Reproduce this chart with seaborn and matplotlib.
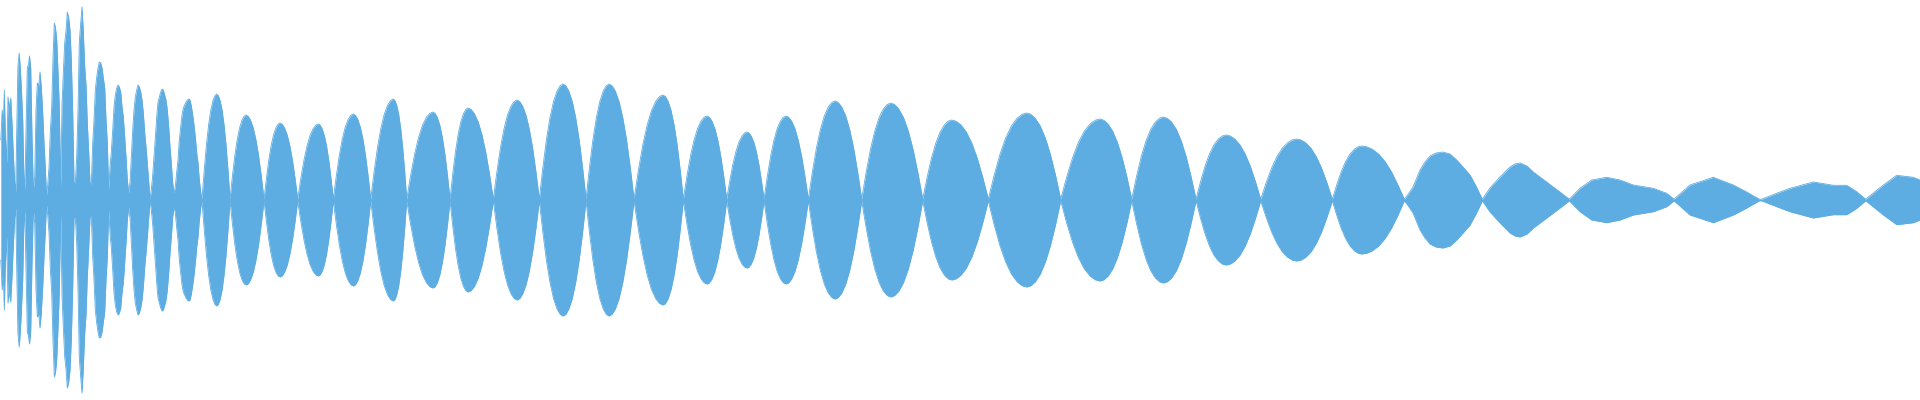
import numpy as np
import matplotlib
matplotlib.use("Agg")
import matplotlib.pyplot as plt
import seaborn as sns

# ---- data (x in samples, amplitude in same units) ----
# dense onset region: explicit envelope points
left_x = [0.8, 2.2, 3.3, 4.3, 5.3, 6.7, 8, 9.3, 10.7, 12, 13.3, 14.7, 15.7, 16.7,
          17.9, 19.2, 20.2, 21.3, 22.7, 23.8, 24.8, 26, 27.3, 28.5, 29.5, 30.7, 32,
          33.3, 34.7, 36, 37.3, 38.7, 40, 41.3, 42.7, 44, 45.3, 46.5, 47.7, 49, 50.3,
          51.7, 53, 54.3, 55.5, 56.7, 58, 59.3, 60.7, 62, 63.3, 64.7, 66, 67.3, 68.7,
          70, 71.3, 72.7, 74, 75.3, 76.7, 78, 79.3, 80.7, 82, 83.3, 84.7, 86, 87.3,
          88.7, 90, 91.3, 92.7, 94, 95.3, 96.7, 98, 99.3,
          100.7, 102, 103.3, 104.7, 106, 107.3, 108.7, 110, 111.3, 112.7, 114, 115.3,
          116.7, 118, 119.3, 120.7, 122, 123.3, 124.7, 126, 127.3, 128.7, 130, 131.3,
          132.7, 134, 135.3, 136.7, 138, 139.3, 140.7, 142, 143.3, 144.7, 146, 147.3,
          148.7, 150, 151.3, 152.7, 154, 155.3, 156.7, 158, 159.3, 160.7, 162, 163.3,
          164.7, 166, 167.3, 168.7, 170, 171.3, 172.7, 174, 175.3, 176.7, 178, 179.3,
          180.7, 182, 183.3, 184.7, 186, 187.3, 188.7, 190, 191.3, 192.7, 194, 195.3,
          196.7, 198, 199.3, 200.7]
left_amp = [60, 90, 75, 110, 67, 37, 103, 92, 102, 77, 46, 17, 8, 68,
            133, 147, 133, 113, 80, 27, 10, 67, 132, 136, 144, 132, 62,
            10, 23, 90, 117, 114, 128, 113, 87, 57, 32, 5, 15, 33, 68,
            93, 142, 177, 172, 160, 128, 92, 13, 95, 127, 157, 169, 188, 182,
            170, 140, 87, 18, 17, 43, 90, 158, 177, 193, 168, 133, 115, 77,
            48, 18, 15, 57, 80, 110, 123, 132, 138,
            137, 132, 122, 112, 80, 57, 10, 33, 48, 70, 93, 105,
            112, 115, 113, 108, 93, 83, 63, 43, 20, 7, 18, 42,
            70, 90, 103, 110, 115, 113, 108, 100, 87, 67, 53, 37,
            18, 0.8, 10, 25, 43, 62, 83, 98, 103, 108, 111, 110,
            105, 100, 90, 73, 53, 37, 17, 7, 13, 28, 40, 60,
            73, 85, 92, 95, 98, 100, 101, 100, 94, 85, 75, 63,
            47, 37, 20, 8]

# regular lobes: zero crossings, peak positions and peak amplitudes
lobe_zero_x = [202, 230, 264, 297.7, 333.3, 370.7, 406.7, 450, 493.3, 539.3, 586,
               634, 683.3, 726.7, 764, 808.3, 861.7, 922.7, 988.3, 1060.7, 1131.7,
               1196, 1260.7, 1332.3, 1404.3]
lobe_peak_x = [216.7, 246, 280, 318.3, 353.3, 393.3, 433, 468, 517, 563, 609, 663,
               707, 747, 786, 835, 890.7, 951.7, 1026.7, 1100, 1163.3, 1226, 1296.7,
               1361.7]
lobe_peak_amp = [106, 85, 77, 76, 86, 101, 88, 92, 100, 116, 116, 105, 84, 68, 84,
                 99, 97, 80, 87, 81, 83, 65, 61, 54]

# decaying tail: explicit envelope points
right_x = [1409, 1413, 1420, 1425, 1430, 1436, 1442.7, 1450, 1456.7, 1463, 1470, 1476,
           1482.3, 1490, 1500, 1510, 1515, 1520, 1527, 1533.3, 1546.7, 1560, 1569.3,
           1580, 1591.7, 1606.7, 1620, 1633.3, 1653.3, 1666.7,
           1674, 1690, 1713.3, 1733.3, 1746.7, 1759.3, 1761.7, 1776.7, 1790, 1813.3,
           1833.3, 1846.7, 1856.7, 1865.7, 1883.3, 1896.7, 1913.3, 1920]
right_amp = [7, 13, 30, 38, 44, 47, 48, 46, 40, 33, 25, 14,
             0.8, 12, 23, 33, 36, 37, 34, 28, 18, 8, 0.8,
             11.7, 20, 22.7, 20, 15, 11.7, 6.7,
             0.8, 15, 22.7, 15, 8, 0.8, 0.8, 6.7, 11.7, 18,
             14.7, 14.7, 8.3, 0.8, 15, 24.7, 22.7, 20]

# ---- style ----
COLOR = "#5DADE2"
lobe_frac = [0.0, 0.15, 0.3, 0.45, 0.6, 0.75, 0.88, 1.0]   # shape of one lobe flank
lobe_prof = [0.0, 0.28, 0.52, 0.71, 0.85, 0.94, 0.985, 1.0]
MIN_AMP = 0.8

# assemble envelope
xs = list(left_x)
amps = list(left_amp)
for i in range(len(lobe_peak_x)):
    a, b = lobe_zero_x[i], lobe_zero_x[i + 1]
    p, A = lobe_peak_x[i], lobe_peak_amp[i]
    for f, s in zip(lobe_frac, lobe_prof):
        xs.append(a + f * (p - a)); amps.append(max(s * A, MIN_AMP))
    for f, s in zip(lobe_frac[-2::-1], lobe_prof[-2::-1]):
        xs.append(b - f * (b - p)); amps.append(max(s * A, MIN_AMP))
xs += right_x
amps += right_amp
xs = np.array(xs); amps = np.array(amps)
order = np.argsort(xs, kind="stable")
xs, amps = xs[order], amps[order]

sns.set_theme(style="white")
fig = plt.figure(figsize=(19.2, 4), dpi=100)
ax = fig.add_axes([0, 0, 1, 1])
ax.fill_between(xs, -amps, amps, color=COLOR, linewidth=0)
sns.lineplot(x=xs, y=amps, color=COLOR, lw=0.6, ax=ax, sort=False)
sns.lineplot(x=xs, y=-amps, color=COLOR, lw=0.6, ax=ax, sort=False)
ax.set_xlim(0, 1920)
ax.set_ylim(-200, 200)
ax.axis("off")
fig.savefig("out.png", dpi=100, facecolor="white")
